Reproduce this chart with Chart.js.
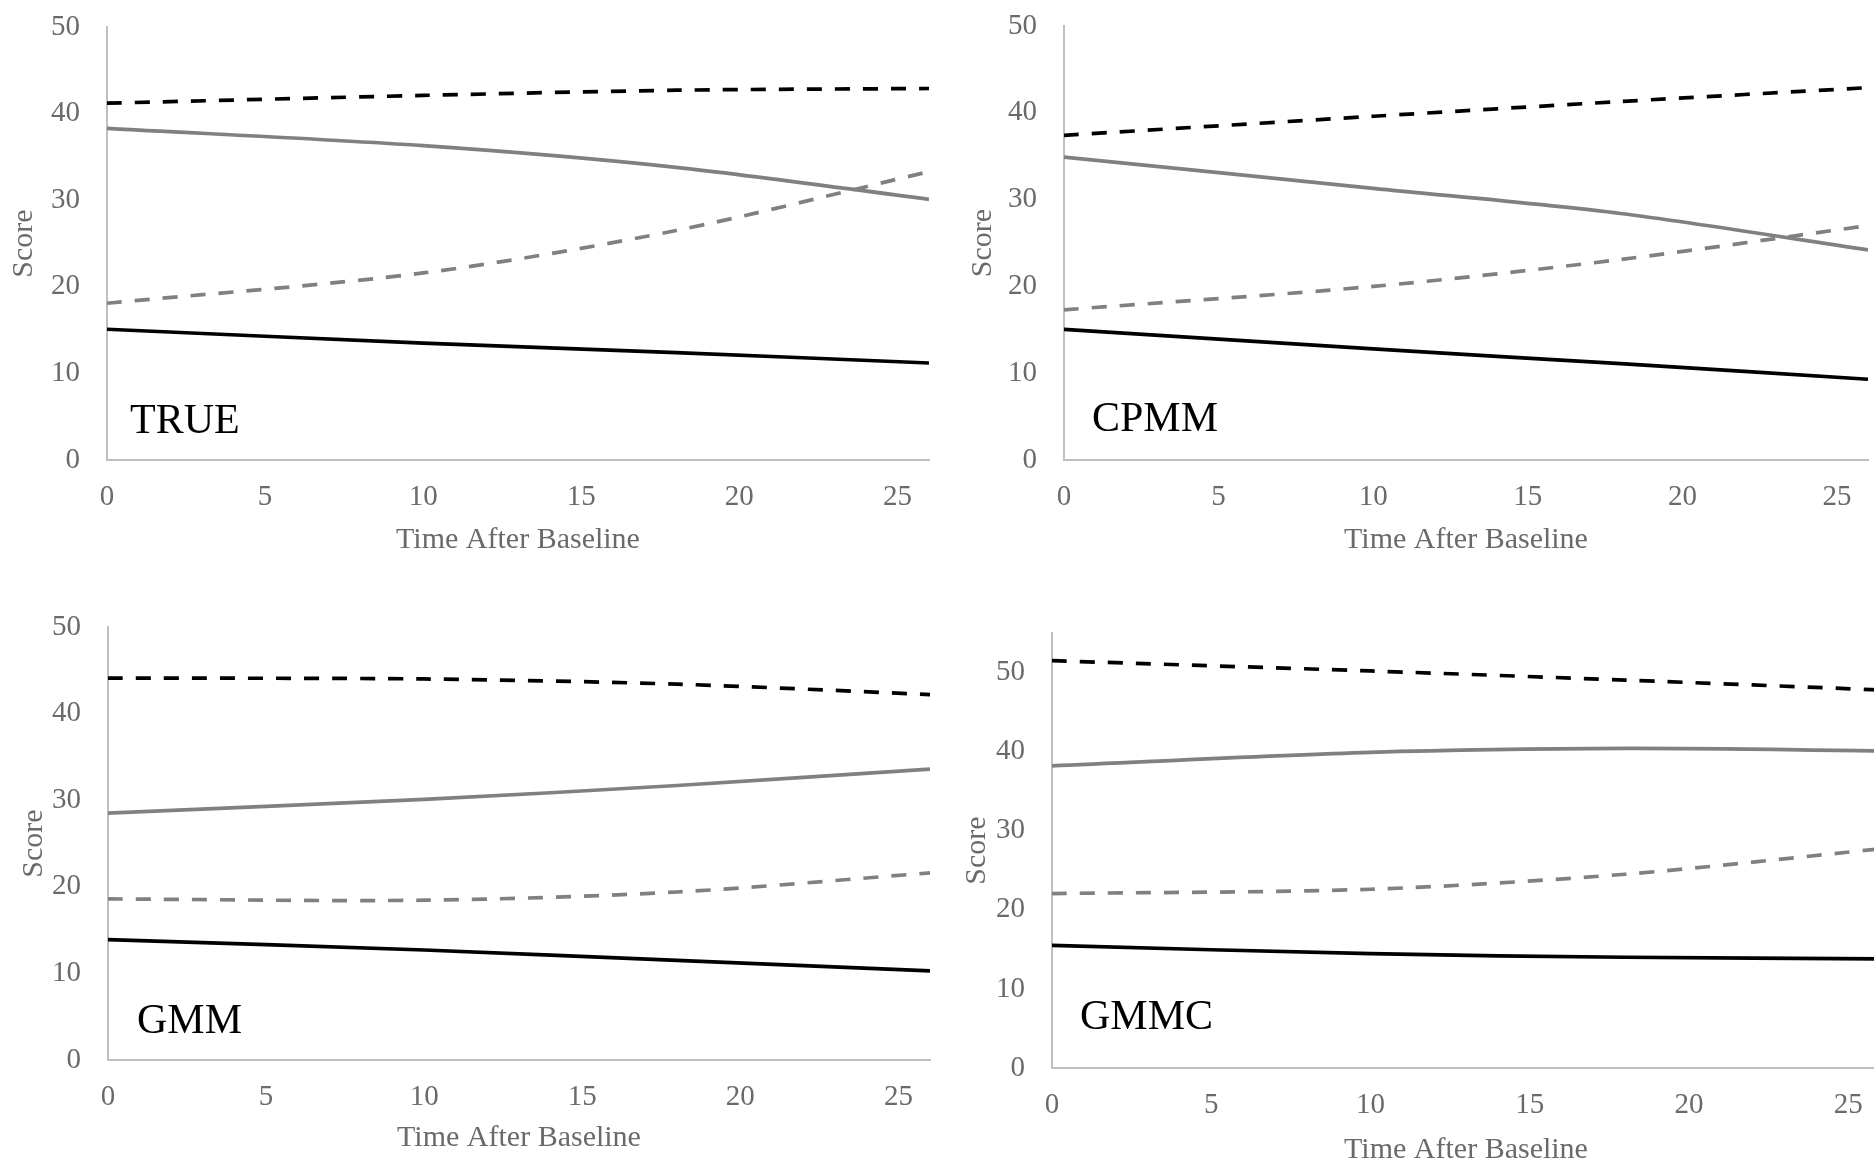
<!DOCTYPE html>
<html><head><meta charset="utf-8">
<script src="https://cdn.jsdelivr.net/npm/chart.js@4.4.1/dist/chart.umd.min.js"></script>
<style>
html,body{margin:0;padding:0;background:#fff;width:1874px;height:1163px;overflow:hidden;position:relative}
canvas{position:absolute}
</style></head><body>
<canvas id="c1" width="940" height="580" style="left:0px;top:0px"></canvas>
<canvas id="c2" width="934" height="580" style="left:940px;top:0px"></canvas>
<canvas id="c3" width="940" height="590" style="left:0px;top:590px"></canvas>
<canvas id="c4" width="950" height="598" style="left:940px;top:590px"></canvas>
<script>
// ---- data ----
const times = [0, 10, 18, 26];
const xTicks = [0, 5, 10, 15, 20, 25];
const yTicks = [0, 10, 20, 30, 40, 50];
const panelNames = ['TRUE', 'CPMM', 'GMM', 'GMMC'];

const trueBlackDashed = [41.2, 42.1, 42.7, 42.9];
const trueGraySolid   = [38.3, 36.3, 33.8, 30.1];
const trueGrayDashed  = [18.1, 21.6, 26.5, 33.3];
const trueBlackSolid  = [15.1, 13.5, 12.4, 11.2];

const cpmmBlackDashed = [37.4, 39.6, 41.3, 42.9];
const cpmmGraySolid   = [34.9, 31.3, 28.4, 24.2];
const cpmmGrayDashed  = [17.3, 20.0, 23.1, 27.0];
const cpmmBlackSolid  = [15.05, 12.8, 11.1, 9.3];

const gmmBlackDashed = [44.1, 44.0, 43.4, 42.2];
const gmmGraySolid   = [28.5, 30.1, 31.7, 33.6];
const gmmGrayDashed  = [18.6, 18.45, 19.4, 21.6];
const gmmBlackSolid  = [13.9, 12.7, 11.5, 10.3];

const gmmcBlackDashed = [51.5, 50.2, 49.05, 47.8];
const gmmcGraySolid   = [38.2, 39.9, 40.4, 40.1];
const gmmcGrayDashed  = [22.05, 22.6, 24.5, 27.7];
const gmmcBlackSolid  = [15.5, 14.45, 14.0, 13.8];

const yMaxes = [50, 50, 50, 55];

// ---- layout (styles only) ----
const layouts = [
  {id:'c1', padTop:27, padRight:11, yAxisW:107, xAxisH:120, yTitlePad:6,  xTitlePad:22, labX:23, labY:27},
  {id:'c2', padTop:26, padRight:6,  yAxisW:124, xAxisH:120, yTitlePad:25, xTitlePad:22, labX:28, labY:29},
  {id:'c3', padTop:37, padRight:10, yAxisW:108, xAxisH:120, yTitlePad:16, xTitlePad:24, labX:29, labY:27},
  {id:'c4', padTop:43, padRight:10, yAxisW:112, xAxisH:120, yTitlePad:19, xTitlePad:20, labX:28, labY:39},
];

const panelSeries = [
  [trueBlackDashed, trueGraySolid, trueGrayDashed, trueBlackSolid],
  [cpmmBlackDashed, cpmmGraySolid, cpmmGrayDashed, cpmmBlackSolid],
  [gmmBlackDashed, gmmGraySolid, gmmGrayDashed, gmmBlackSolid],
  [gmmcBlackDashed, gmmcGraySolid, gmmcGrayDashed, gmmcBlackSolid],
];
const seriesStyles = [
  {color:'#000000', dash:[15,13]},
  {color:'#808080', dash:[]},
  {color:'#808080', dash:[15,13]},
  {color:'#000000', dash:[]},
];

const FONT = '"Liberation Serif", "DejaVu Serif", serif';
const TXT = '#6a6a6a';

const panelLabel = {
  id: 'panelLabel',
  afterDatasetsDraw(chart, args, opts) {
    const ctx = chart.ctx, a = chart.chartArea;
    ctx.save();
    ctx.font = '42px ' + FONT;
    ctx.fillStyle = '#000';
    ctx.textAlign = 'left';
    ctx.textBaseline = 'alphabetic';
    ctx.fillText(opts.text, a.left + opts.dx, a.bottom - opts.dy);
    ctx.restore();
  }
};

function zeroPad(ax) {
  ax.paddingTop = 0; ax.paddingBottom = 0; ax.paddingLeft = 0; ax.paddingRight = 0;
}

panelNames.forEach((name, i) => {
  const L = layouts[i];
  const datasets = panelSeries[i].map((vals, k) => ({
    label: name + ' ' + (k + 1),
    data: times.map((t, j) => ({x: t, y: vals[j]})),
    borderColor: seriesStyles[k].color,
    borderDash: seriesStyles[k].dash,
    borderWidth: 3.7,
    borderCapStyle: 'butt',
    pointRadius: 0,
    fill: false,
    tension: 0.3,
  }));
  new Chart(document.getElementById(L.id), {
    type: 'line',
    data: {datasets},
    options: {
      responsive: false,
      animation: false,
      devicePixelRatio: 1,
      layout: {padding: {top: L.padTop, right: L.padRight, left: 0, bottom: 0}},
      plugins: {
        legend: {display: false},
        tooltip: {enabled: false},
        panelLabel: {text: name, dx: L.labX, dy: L.labY},
      },
      scales: {
        x: {
          type: 'linear', min: 0, max: 26,
          afterBuildTicks: ax => { ax.ticks = xTicks.map(v => ({value: v})); },
          afterFit: ax => { ax.height = L.xAxisH; zeroPad(ax); },
          grid: {display: false, drawTicks: false},
          border: {display: true, color: '#bfbfbf', width: 2},
          ticks: {padding: 20, color: TXT, font: {family: FONT, size: 29}, maxRotation: 0, autoSkip: false},
          title: {display: true, text: 'Time After Baseline', color: TXT,
                  font: {family: FONT, size: 30}, padding: {top: 0, bottom: L.xTitlePad}},
        },
        y: {
          type: 'linear', min: 0, max: yMaxes[i],
          afterBuildTicks: ax => { ax.ticks = yTicks.map(v => ({value: v})); },
          afterFit: ax => { ax.width = L.yAxisW; zeroPad(ax); },
          grid: {display: false, drawTicks: false},
          border: {display: true, color: '#bfbfbf', width: 2},
          ticks: {padding: 27, color: TXT, font: {family: FONT, size: 29}, autoSkip: false},
          title: {display: true, text: 'Score', color: TXT,
                  font: {family: FONT, size: 30}, padding: {top: L.yTitlePad, bottom: 0}},
        },
      },
    },
    plugins: [panelLabel],
  });
});
</script>
</body></html>
